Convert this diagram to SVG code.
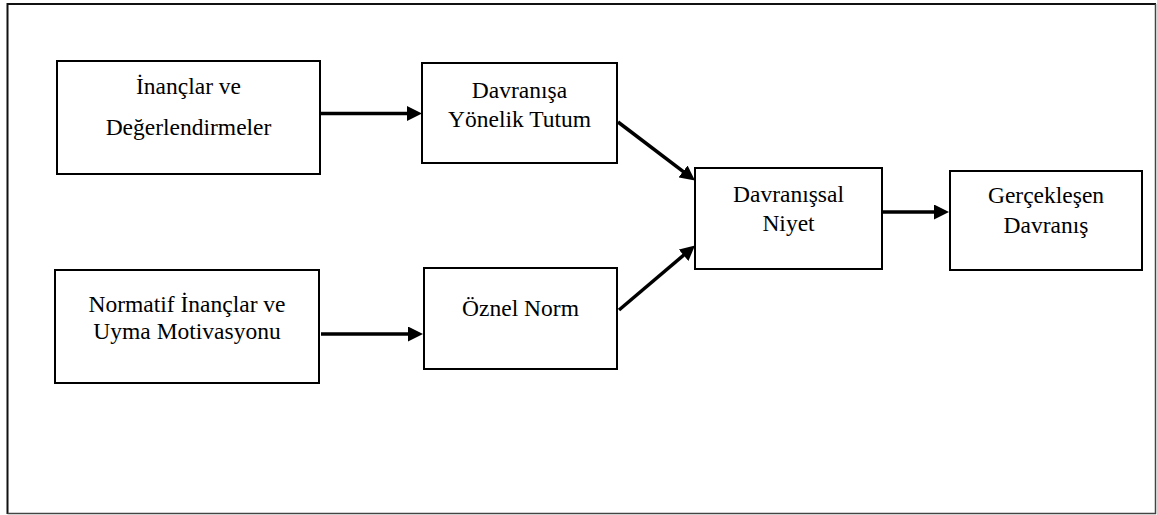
<svg xmlns="http://www.w3.org/2000/svg" width="1157" height="515" viewBox="0 0 1157 515">
<style>
.box{fill:#fff;stroke:#000;stroke-width:2}
text{font-family:'Liberation Serif','DejaVu Serif','Times New Roman',serif;font-size:23.5px;fill:#000;text-anchor:middle}
.c{stroke:#000;stroke-width:3.5;fill:none;marker-end:url(#ah)}
</style>
<defs>
<marker id="ah" markerUnits="userSpaceOnUse" markerWidth="15" markerHeight="15" refX="7" refY="7.5" orient="auto" viewBox="0 0 15 15">
<path d="M0,0 L15,7.5 L0,15 z" fill="#000"/>
</marker>
</defs>
<rect width="1157" height="515" fill="#fff"/>
<g id="frame">
<path d="M7.5,514 L7.5,4 L1156,4" fill="none" stroke="#111" stroke-width="2"/>
<path d="M7.5,513.5 L1155.5,513.5 L1155.5,4" fill="none" stroke="#444" stroke-width="1.5"/>
</g>
<g id="connectors">
<line class="c" x1="321" y1="113.5" x2="414" y2="113.5"/>
<line class="c" x1="321" y1="334" x2="415" y2="334"/>
<line class="c" x1="618" y1="122" x2="688.6" y2="175.7"/>
<line class="c" x1="619" y1="310" x2="688.9" y2="250.7"/>
<line class="c" x1="883" y1="212" x2="941" y2="212"/>
</g>
<g id="n1">
<rect class="box" x="57" y="61" width="263" height="113"/>
<text x="188.5" y="94" font-family="Liberation Serif, serif">İnançlar ve</text>
<text x="188.5" y="135" font-family="Liberation Serif, serif">Değerlendirmeler</text>
</g>
<g id="n2">
<rect class="box" x="422" y="63" width="195" height="100"/>
<text x="519.5" y="97.5">Davranışa</text>
<text x="519.5" y="126.5">Yönelik Tutum</text>
</g>
<g id="n3">
<rect class="box" x="695" y="168" width="187" height="101"/>
<text x="788.5" y="202">Davranışsal</text>
<text x="788.5" y="231">Niyet</text>
</g>
<g id="n4">
<rect class="box" x="950" y="171" width="192" height="99"/>
<text x="1046" y="203">Gerçekleşen</text>
<text x="1046" y="233">Davranış</text>
</g>
<g id="n5">
<rect class="box" x="55" y="270" width="264" height="113"/>
<text x="187" y="311.5">Normatif İnançlar ve</text>
<text x="187" y="338.5">Uyma Motivasyonu</text>
</g>
<g id="n6">
<rect class="box" x="424" y="268" width="193" height="101"/>
<text x="520.5" y="315.5">Öznel Norm</text>
</g>
</svg>
